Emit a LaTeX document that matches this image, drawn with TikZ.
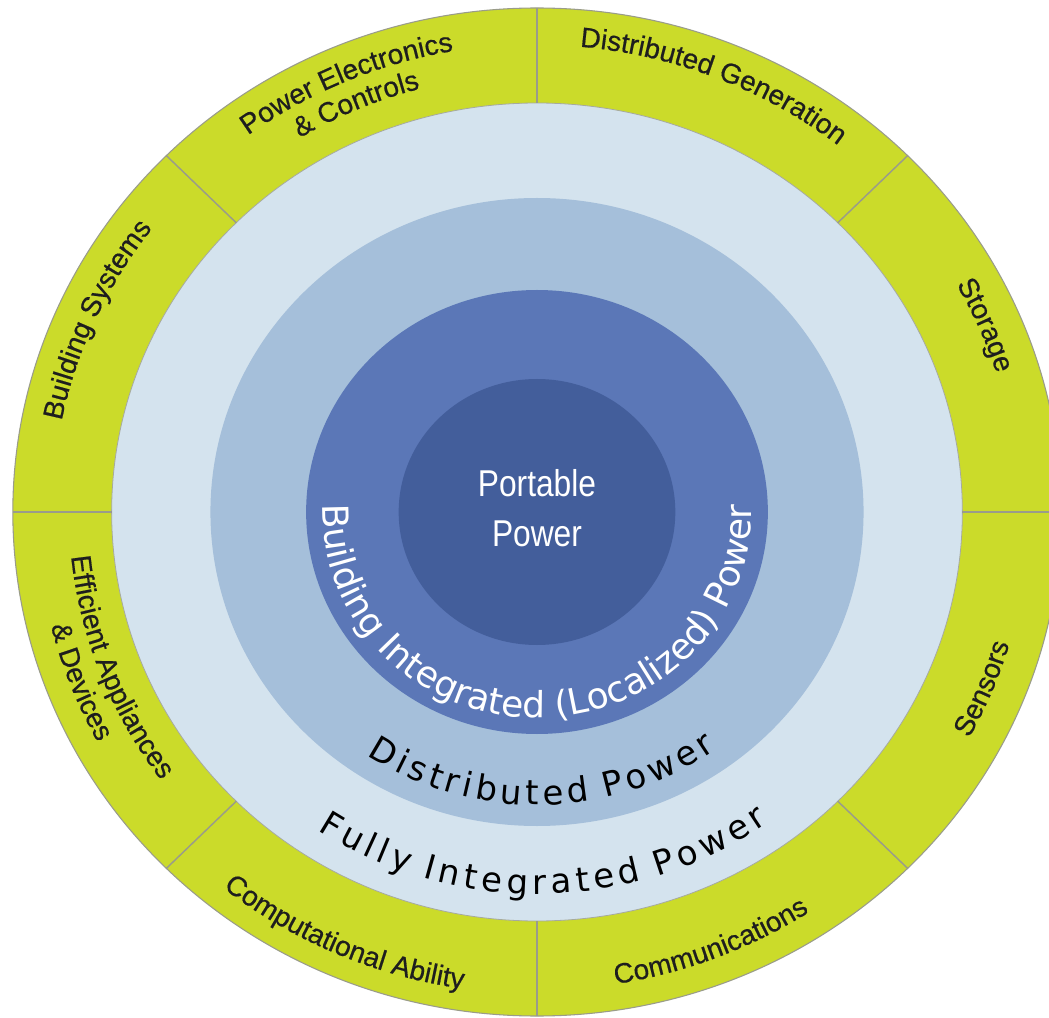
\documentclass[tikz,border=0pt]{standalone}
\usepackage{fontspec}
\setmainfont{Liberation Sans}
\newfontfamily\labelfont[FakeBold=0.5]{Liberation Sans}
\newfontfamily\narrowfont[FakeStretch=0.85]{Liberation Sans}
\newfontfamily\ringfont{DejaVu Sans}
\usetikzlibrary{decorations.text}

\definecolor{ringgreen}{HTML}{CBDB2A}
\definecolor{ringlight}{HTML}{D4E3EE}
\definecolor{ringmid}{HTML}{A5BFDA}
\definecolor{ringdark}{HTML}{5B77B7}
\definecolor{ringcore}{HTML}{435E9B}
\definecolor{divgray}{HTML}{9A9C8A}
\definecolor{labelink}{HTML}{1E1E1E}

\newcommand\lsp{\kern3.3pt}
\newcommand\lspb{\kern3.7pt}
\tikzset{
  arclabel/.style={decorate, decoration={text along path, text align=center,
      text color=labelink, text={|\labelfont\fontsize{21}{25}\selectfont|#1}}},
  ringtext/.style 2 args={decorate, decoration={text along path, text align=center,
      text color=#1, text={|\ringfont\fontsize{27}{31}\selectfont|#2}}},
  spacedtext/.style={decorate, decoration={text along path, text align=center,
      text color=black, text={|\ringfont\fontsize{25.5}{30}\selectfont|#1}}},
  divider/.style={draw=divgray, line width=1.1pt},
}
\newcommand\cwlabel[3]{\path[arclabel={#3}] (#1+45:#2) arc[start angle=#1+45, end angle=#1-45, radius=#2];}
\newcommand\ccwlabel[3]{\path[arclabel={#3}] (#1-45:#2) arc[start angle=#1-45, end angle=#1+45, radius=#2];}

\begin{document}
\begin{tikzpicture}[x=0.78pt,y=0.75pt]
\fill[white] (-402.75pt,-378.75pt) rectangle (384pt,384pt);
\useasboundingbox (-402.75pt,-378.75pt) rectangle (384pt,384pt);
\clip (-402.75pt,-378.75pt) rectangle (384pt,384pt);

\coordinate (C) at (0,0);
% rings
\filldraw[fill=ringgreen, draw=divgray, line width=0.8pt] (C) circle[radius=504];
\filldraw[fill=ringlight, draw=divgray!80!ringlight, line width=0.6pt] (C) circle[radius=409];
\fill[ringmid] (C) circle[radius=314];
\fill[ringdark] (C) circle[radius=222];
\fill[ringcore] (C) circle[radius=133];

% sector dividers
\foreach \a in {0,45,...,315}
  \path[divider] (\a:409) -- (\a:504);

% sector labels
\cwlabel{113.5}{468}{Power Electronics}
\cwlabel{113.5}{438}{{\&} Controls}
\cwlabel{68}{467}{Distributed Generation}
\cwlabel{23}{463}{Storage}
\cwlabel{156}{466}{Building Systems}
\ccwlabel{-22}{473}{Sensors}
\ccwlabel{-68.5}{478}{Communications}
\ccwlabel{246}{482}{Computational Ability}
\ccwlabel{200.8}{450}{Efficient Appliances}
\ccwlabel{200.8}{481}{{\&} Devices}

% ring texts
\path[ringtext={white}{Building Integrated (Localized) Power}] (175:206) arc[start angle=175, end angle=365, radius=206];
\path[spacedtext={D{\lsp}i{\lsp}s{\lsp}t{\lsp}r{\lsp}i{\lsp}b{\lsp}u{\lsp}t{\lsp}e{\lsp}d{\lsp} P{\lsp}o{\lsp}w{\lsp}e{\lsp}r}] (216:293) arc[start angle=216, end angle=326, radius=293];
\path[spacedtext={F{\lspb}u{\lspb}l{\lspb}l{\lspb}y{\lspb} I{\lspb}n{\lspb}t{\lspb}e{\lspb}g{\lspb}r{\lspb}a{\lspb}t{\lspb}e{\lspb}d{\lspb} P{\lspb}o{\lspb}w{\lspb}e{\lspb}r}] (216:382) arc[start angle=216, end angle=326, radius=382];

% core text
\node[anchor=base, text=white, inner sep=0pt, font=\narrowfont\fontsize{28}{34}\selectfont] (portable) at (0,15) {Portable};
\node[anchor=base, text=white, inner sep=0pt, font=\narrowfont\fontsize{28}{34}\selectfont] (power) at (0,-34) {Power};
\end{tikzpicture}
\end{document}
